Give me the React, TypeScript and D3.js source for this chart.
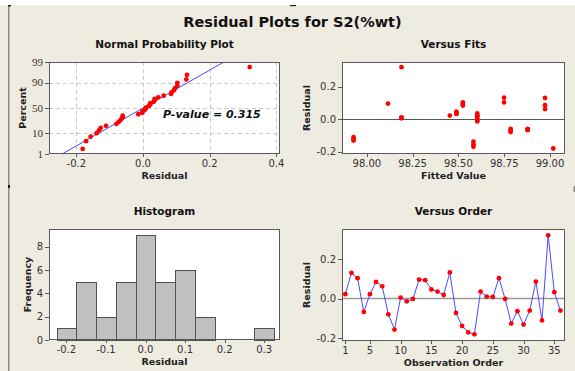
import React from 'react'
import * as d3 from 'd3'

// residuals in observation order
const residuals = [
  0.022, 0.13, 0.103, -0.068, 0.022, 0.084, 0.062, -0.08, -0.157, 0.005,
  -0.014, -0.002, 0.096, 0.093, 0.046, 0.035, 0.018, 0.132, -0.073, -0.139,
  -0.171, -0.181, 0.035, 0.01, 0.008, 0.103, -0.002, -0.127, -0.064, -0.132,
  -0.061, 0.086, -0.111, 0.32, 0.032, -0.061,
]
// fitted value for each observation
const fits = [
  98.453, 98.973, 98.524, 98.878, 98.603, 98.524, 98.973, 98.785, 98.582, 98.189,
  98.603, 98.603, 98.115, 98.524, 98.489, 98.489, 98.603, 98.749, 98.785, 98.582,
  98.582, 99.018, 98.603, 98.189, 98.189, 98.749, 98.603, 97.927, 98.878, 97.927,
  98.878, 98.973, 97.927, 98.189, 98.489, 98.785,
]

const probXTicks = [-0.2, 0.0, 0.2, 0.4]
const percentTicks = [1, 10, 50, 90, 99]
const fitTicks = [98.0, 98.25, 98.5, 98.75, 99.0]
const residTicks = [-0.2, 0.0, 0.2]
const histXTicks = [-0.2, -0.1, 0.0, 0.1, 0.2, 0.3]
const freqTicks = [0, 2, 4, 6, 8]
const orderTicks = [1, 5, 10, 15, 20, 25, 30, 35]
const pValue = '0.315'

const SANS = 'DejaVu Sans'
const BG = '#eeebe1'

// inverse normal cdf (Acklam)
function normInv(p: number) {
  const a = [-39.69683028665376, 220.9460984245205, -275.9285104469687, 138.357751867269, -30.66479806614716, 2.506628277459239]
  const b = [-54.47609879822406, 161.5858368580409, -155.6989798598866, 66.80131188771972, -13.28068155288572]
  const c = [-0.007784894002430293, -0.3223964580411365, -2.400758277161838, -2.549732539343734, 4.374664141464968, 2.938163982698783]
  const d = [0.007784695709041462, 0.3224671290700398, 2.445134137142996, 3.75440866519011]
  const plow = 0.02425
  if (p < plow) {
    const q = Math.sqrt(-2 * Math.log(p))
    return (((((c[0] * q + c[1]) * q + c[2]) * q + c[3]) * q + c[4]) * q + c[5]) / ((((d[0] * q + d[1]) * q + d[2]) * q + d[3]) * q + 1)
  }
  if (p > 1 - plow) {
    const q = Math.sqrt(-2 * Math.log(1 - p))
    return -(((((c[0] * q + c[1]) * q + c[2]) * q + c[3]) * q + c[4]) * q + c[5]) / ((((d[0] * q + d[1]) * q + d[2]) * q + d[3]) * q + 1)
  }
  const q = p - 0.5
  const r = q * q
  return (((((a[0] * r + a[1]) * r + a[2]) * r + a[3]) * r + a[4]) * r + a[5]) * q / (((((b[0] * r + b[1]) * r + b[2]) * r + b[3]) * r + b[4]) * r + 1)
}

type Box = { x0: number; x1: number; y0: number; y1: number }

function Frame({ box, x, y, xTicks, yTicks, xFmt, yFmt, title, xLabel, yLabel, yLabelX, yFont, children }: any) {
  const cx = (box.x0 + box.x1) / 2
  const cy = (box.y0 + box.y1) / 2
  return (
    <g>
      <rect x={box.x0} y={box.y0} width={box.x1 - box.x0} height={box.y1 - box.y0} fill="#fff" />
      {children}
      <rect x={box.x0 + 0.5} y={box.y0 + 0.5} width={box.x1 - box.x0 - 1} height={box.y1 - box.y0 - 1} fill="none" stroke="#5a5a5a" />
      {xTicks.map((t: number) => (
        <g key={'x' + t}>
          <line x1={Math.round(x(t)) + 0.5} x2={Math.round(x(t)) + 0.5} y1={box.y1} y2={box.y1 + 3} stroke="#5a5a5a" />
          <text x={x(t)} y={box.y1 + 13} textAnchor="middle" fontFamily={SANS} fontSize={10} fill="#333">{xFmt(t)}</text>
        </g>
      ))}
      {yTicks.map((t: number) => (
        <g key={'y' + t}>
          <line x1={box.x0 - 4} x2={box.x0} y1={Math.round(y(t)) + 0.5} y2={Math.round(y(t)) + 0.5} stroke="#5a5a5a" />
          <text x={box.x0 - 6} y={y(t) + 3.5} textAnchor="end" fontFamily={yFont || SANS} fontSize={yFont ? 11 : 10} fill="#333">{yFmt(t)}</text>
        </g>
      ))}
      <text x={cx} y={box.y0 - 14} textAnchor="middle" fontFamily={SANS} fontWeight="bold" fontSize={10.5} fill="#111">{title}</text>
      <text x={cx} y={box.y1 + 24.5} textAnchor="middle" fontFamily={SANS} fontWeight="bold" fontSize={9.5} fill="#222">{xLabel}</text>
      <text transform={`translate(${yLabelX},${cy}) rotate(-90)`} textAnchor="middle" fontFamily={SANS} fontWeight="bold" fontSize={9.5} fill="#222">{yLabel}</text>
    </g>
  )
}

function ProbPlot() {
  const box: Box = { x0: 49, x1: 280, y0: 62, y1: 154 }
  const x = d3.scaleLinear().domain([-0.282, 0.411]).range([box.x0, box.x1])
  const zy = d3.scaleLinear().domain([normInv(0.01), normInv(0.99)]).range([box.y1, box.y0])
  const y = (pct: number) => zy(normInv(pct / 100))
  const n = residuals.length
  const sorted = residuals.slice().sort(d3.ascending)
  const mean = d3.mean(residuals) as number
  const sd = d3.deviation(residuals) as number
  const zLo = normInv(0.01)
  const zHi = normInv(0.99)
  return (
    <Frame box={box} x={x} y={y} xTicks={probXTicks} yTicks={percentTicks}
      xFmt={(v: number) => v.toFixed(1)} yFmt={(v: number) => String(v)}
      title="Normal Probability Plot" xLabel="Residual" yLabel="Percent" yLabelX={26} yFont="Liberation Serif">
      {probXTicks.map((t) => (
        <line key={'gx' + t} x1={Math.round(x(t)) + 0.5} x2={Math.round(x(t)) + 0.5} y1={box.y0} y2={box.y1} stroke="#c8c8c8" strokeDasharray="4,3" />
      ))}
      {percentTicks.slice(1, -1).map((t) => (
        <line key={'gy' + t} x1={box.x0} x2={box.x1} y1={Math.round(y(t)) + 0.5} y2={Math.round(y(t)) + 0.5} stroke="#c8c8c8" strokeDasharray="4,3" />
      ))}
      <line x1={x(mean + sd * zLo)} y1={zy(zLo)} x2={x(mean + sd * zHi)} y2={zy(zHi)} stroke="#4a4aff" strokeWidth={1} />
      {sorted.map((r, i) => (
        <circle key={i} cx={x(r)} cy={zy(normInv((i + 1 - 0.3) / (n + 0.4)))} r={2.4} fill="#ff0000" />
      ))}
      <text x={163} y={117.5} fontFamily={SANS} fontWeight="bold" fontStyle="italic" fontSize={11} fill="#111">{`P-value = ${pValue}`}</text>
    </Frame>
  )
}

function FitsPlot() {
  const box: Box = { x0: 342, x1: 565, y0: 62, y1: 154 }
  const x = d3.scaleLinear().domain([97.864, 99.082]).range([box.x0, box.x1])
  const y = d3.scaleLinear().domain([-0.215, 0.352]).range([box.y1, box.y0])
  return (
    <Frame box={box} x={x} y={y} xTicks={fitTicks} yTicks={residTicks}
      xFmt={(v: number) => v.toFixed(2)} yFmt={(v: number) => v.toFixed(1)}
      title="Versus Fits" xLabel="Fitted Value" yLabel="Residual" yLabelX={310}>
      <line x1={box.x0} x2={box.x1} y1={Math.round(y(0)) + 0.5} y2={Math.round(y(0)) + 0.5} stroke="#555" />
      {residuals.map((r, i) => (
        <circle key={i} cx={x(fits[i])} cy={y(r)} r={2.4} fill="#ff0000" />
      ))}
    </Frame>
  )
}

function HistPlot() {
  const box: Box = { x0: 49, x1: 280, y0: 229, y1: 340 }
  const x = d3.scaleLinear().domain([-0.244, 0.34]).range([box.x0, box.x1])
  const y = d3.scaleLinear().domain([0, 9.54]).range([box.y1, box.y0])
  const edges = d3.range(12).map((i) => -0.225 + i * 0.05)
  const bins = d3.bin().domain([edges[0], edges[edges.length - 1]]).thresholds(edges.slice(1, -1))(residuals)
  return (
    <Frame box={box} x={x} y={y} xTicks={histXTicks} yTicks={freqTicks}
      xFmt={(v: number) => v.toFixed(1)} yFmt={(v: number) => String(v)}
      title="Histogram" xLabel="Residual" yLabel="Frequency" yLabelX={31}>
      {bins.filter((b) => b.length > 0).map((b, i) => (
        <rect key={i} x={Math.round(x(b.x0 as number)) + 0.5} y={Math.round(y(b.length)) + 0.5}
          width={Math.round(x(b.x1 as number)) - Math.round(x(b.x0 as number))}
          height={Math.round(y(0)) - Math.round(y(b.length))}
          fill="#c0c0c0" stroke="#505050" />
      ))}
    </Frame>
  )
}

function OrderPlot() {
  const box: Box = { x0: 342, x1: 565, y0: 229, y1: 341 }
  const x = d3.scaleLinear().domain([0.46, 36.74]).range([box.x0, box.x1])
  const y = d3.scaleLinear().domain([-0.215, 0.352]).range([box.y1, box.y0])
  const line = d3.line<number>().x((_, i) => x(i + 1)).y((r) => y(r))
  return (
    <Frame box={box} x={x} y={y} xTicks={orderTicks} yTicks={residTicks}
      xFmt={(v: number) => String(v)} yFmt={(v: number) => v.toFixed(1)}
      title="Versus Order" xLabel="Observation Order" yLabel="Residual" yLabelX={310}>
      <line x1={box.x0} x2={box.x1} y1={y(0)} y2={y(0)} stroke="#999" strokeWidth={1.5} />
      <path d={line(residuals) as string} fill="none" stroke="#4a4aff" strokeWidth={1} />
      {residuals.map((r, i) => (
        <circle key={i} cx={x(i + 1)} cy={y(r)} r={2.4} fill="#ff0000" />
      ))}
    </Frame>
  )
}

export default function App() {
  return (
    <div style={{ position: 'absolute', left: 0, top: 0 }}>
      <svg width={575} height={371} style={{ display: 'block' }}>
        <rect x={0} y={0} width={575} height={371} fill="#fff" />
        <rect x={0} y={5} width={575} height={366} fill={BG} />
        <rect x={8} y={5} width={1.5} height={366} fill="#8c8c8c" />
        <rect x={8} y={5} width={3} height={1.5} fill="#222" />
        <rect x={290} y={5} width={6} height={1.2} fill="#222" />
        <rect x={8} y={185} width={2} height={3} fill="#111" />
        <rect x={573.5} y={186} width={1.5} height={6} fill="#888" />
        <text x={292.5} y={26.5} textAnchor="middle" fontFamily={SANS} fontWeight="bold" fontSize={14.5} fill="#111">
          Residual Plots for S2(%wt)
        </text>
        <ProbPlot />
        <FitsPlot />
        <HistPlot />
        <OrderPlot />
      </svg>
    </div>
  )
}
